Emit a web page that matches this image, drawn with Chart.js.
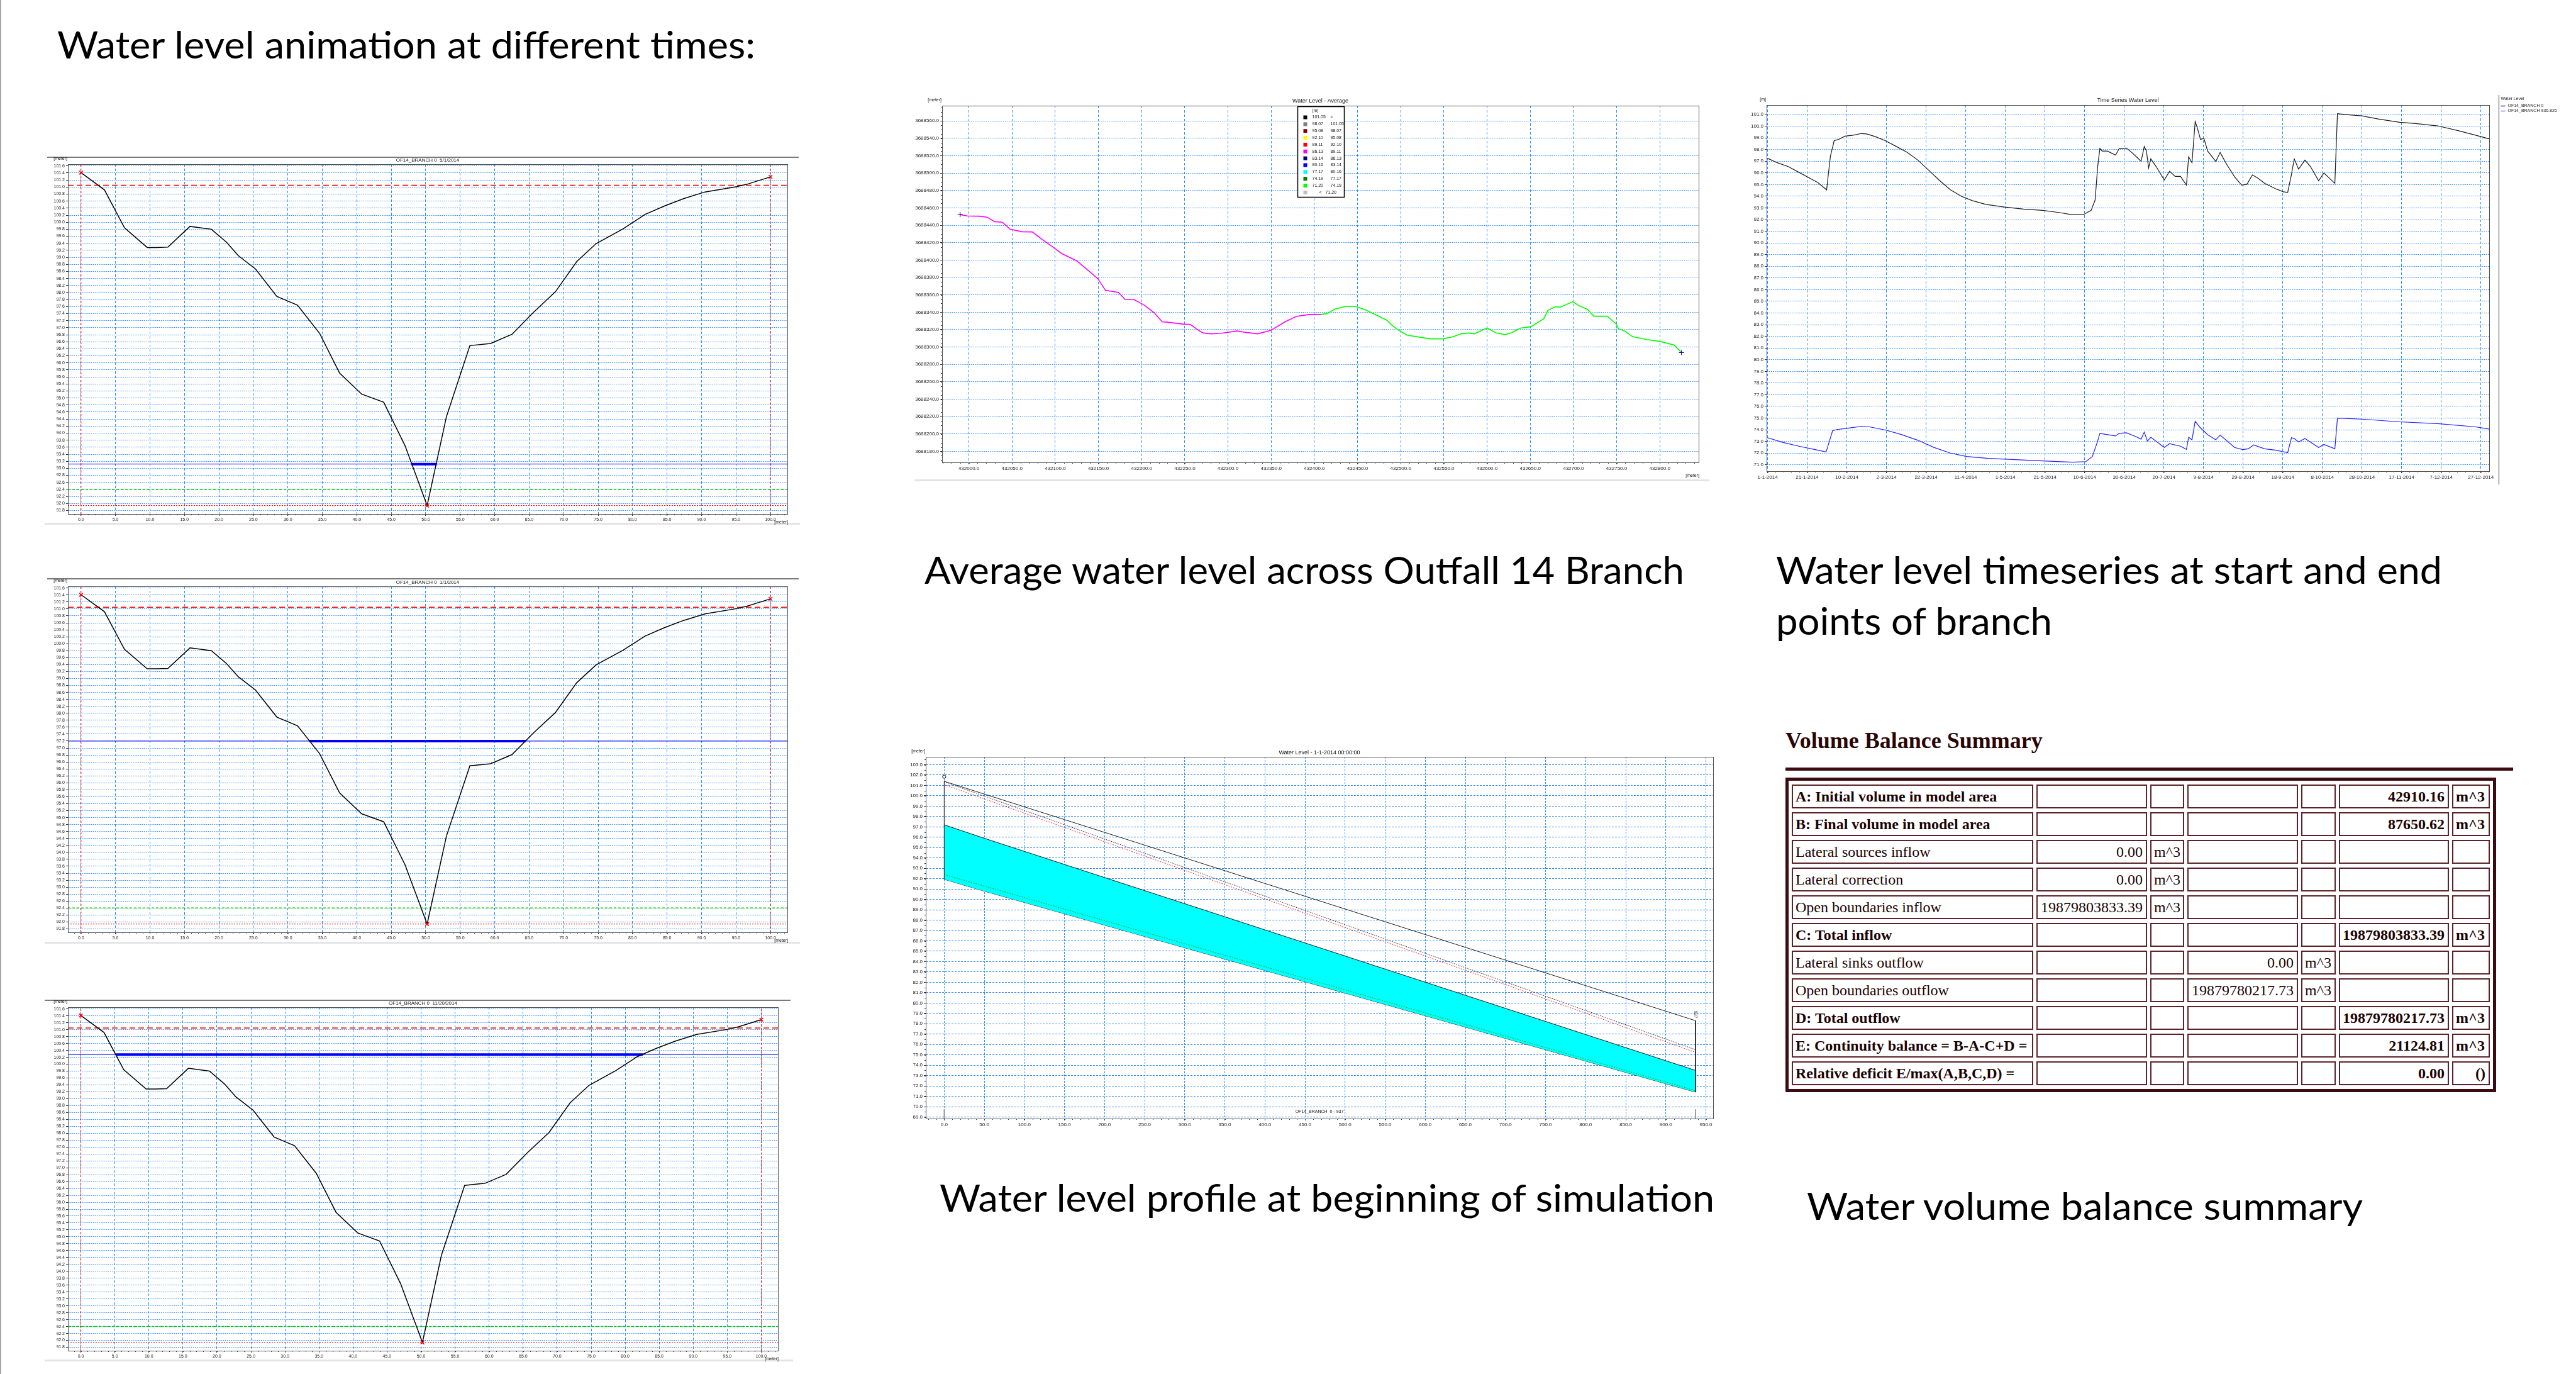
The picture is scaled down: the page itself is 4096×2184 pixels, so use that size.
<!DOCTYPE html>
<html>
<head>
<meta charset="utf-8">
<script src="https://cdn.jsdelivr.net/npm/chart.js@4.4.0/dist/chart.umd.min.js"></script>
<style>
  html, body { margin: 0; padding: 0; background: #fff; }
  #page { position: relative; width: 4096px; height: 2184px; overflow: hidden; background: #fff; }
  canvas { position: absolute; }
  .winline { position: absolute; height: 2px; background: #7a7a7a; }
  .band { position: absolute; height: 3px; background: #e4e4e4; }
  #edge { position: absolute; left: 0; top: 0; width: 2px; height: 2184px; background: #a8a8a8; }
  #vbs-title { position: absolute; left: 2839px; top: 1159px; font: bold 36px 'Liberation Serif', 'Times New Roman', serif; line-height: 1; color: #2b0505; white-space: nowrap; }
  #vbs-rule { position: absolute; left: 2839px; top: 1220px; width: 1157px; height: 5px; background: #3d0b12; }
  #vbs { position: absolute; left: 2839px; top: 1236px; width: 1130px; table-layout: fixed; border: 5px solid #3d0b12; border-collapse: separate; border-spacing: 5px 6px; font-family: 'Liberation Serif', 'Times New Roman', serif; font-size: 24px; color: #1c0303; }
  #vbs td { box-sizing: border-box; height: 38px; border: 2px solid #5b2329; padding: 0 5px 0 4px; white-space: nowrap; overflow: hidden; line-height: 1; }
  #vbs td.num { text-align: right; }
  #vbs tr.b td { font-weight: bold; }
</style>
</head>
<body>
<div id="page">
  <div id="edge"></div>
  <svg width="4096" height="2184" style="position:absolute;left:0;top:0" font-family="Lato, 'Open Sans', sans-serif" font-size="60" fill="#000">
    <text x="91" y="93" textLength="1110" lengthAdjust="spacingAndGlyphs">Water level animation at different times:</text>
    <text x="1470" y="928" textLength="1208" lengthAdjust="spacingAndGlyphs">Average water level across Outfall 14 Branch</text>
    <text x="2824" y="928" textLength="1059" lengthAdjust="spacingAndGlyphs">Water level timeseries at start and end</text>
    <text x="2824" y="1009" textLength="439" lengthAdjust="spacingAndGlyphs">points of branch</text>
    <text x="1494" y="1926" textLength="1232" lengthAdjust="spacingAndGlyphs">Water level profile at beginning of simulation</text>
    <text x="2873" y="1939" textLength="884" lengthAdjust="spacingAndGlyphs">Water volume balance summary</text>
  </svg>
  <div class="winline" style="left:75px;top:249px;width:1195px"></div>
  <div class="winline" style="left:75px;top:919px;width:1195px"></div>
  <div class="winline" style="left:71px;top:1589px;width:1186px"></div>
  <div class="band" style="left:71px;top:831px;width:1201px"></div>
  <div class="band" style="left:71px;top:1497px;width:1201px"></div>
  <div class="band" style="left:71px;top:2161px;width:1190px"></div>
  <div class="band" style="left:1454px;top:762px;width:1264px"></div>
  <div id="vbs-title">Volume Balance Summary</div>
  <div id="vbs-rule"></div>
  <table id="vbs"><tbody></tbody></table>
</div>
<script>
// ---- cross section (animation frames) ----
const xsDist  = [0, 3.4, 6.3, 9.6, 11.0, 12.6, 15.8, 18.9, 21.1, 22.8, 25.3, 28.4, 31.4, 34.6, 37.5, 40.7, 43.9, 47.0, 50.2, 53.0, 56.4, 59.4, 62.5, 65.6, 68.8, 71.9, 74.7, 78.6, 81.8, 84.6, 87.4, 90.5, 95.1, 96.6, 100.0];
const xsLevel = [101.41, 100.92, 99.84, 99.28, 99.28, 99.29, 99.88, 99.80, 99.43, 99.05, 98.67, 97.89, 97.64, 96.84, 95.71, 95.11, 94.88, 93.64, 91.94, 94.47, 96.49, 96.55, 96.81, 97.43, 98.02, 98.88, 99.39, 99.81, 100.22, 100.46, 100.67, 100.86, 101.01, 101.08, 101.29];
const xsMarkX = [0, 50.2, 100];
const xsMarkY = [101.41, 91.94, 101.29];
const chainEnds = [0, 100];
const refRed = 101.05, refGreen = 92.4, refBed = 91.94;
const frameTitles = ['OF14_BRANCH 0  5/1/2014', 'OF14_BRANCH 0  1/1/2014', 'OF14_BRANCH 0  11/20/2014'];
const frameLevels = [93.12, 97.2, 100.28];
const frameWet = [[47.9, 51.6], [33.1, 64.5], [5.2, 82.6]];

// ---- average water level along branch (easting, northing) ----
const avgMagenta = [[431989.9, 3688452.2], [431998.2, 3688450.7], [432011.9, 3688450.4], [432020.9, 3688449.3], [432029.9, 3688444.1], [432038.8, 3688443.5], [432047.8, 3688435.4], [432061.5, 3688432.5], [432073.4, 3688432.3], [432085.4, 3688423.3], [432098.5, 3688414.1], [432107.5, 3688407.5], [432125.4, 3688398.8], [432137.3, 3688388.7], [432149.3, 3688378.6], [432158.2, 3688365.1], [432173.1, 3688362.8], [432180.9, 3688354.7], [432191.0, 3688354.7], [432203.0, 3688348.3], [432214.9, 3688339.1], [432223.9, 3688329.0], [432232.8, 3688328.2], [432247.8, 3688326.4], [432256.7, 3688325.9], [432264.5, 3688320.1], [432271.6, 3688316.1], [432280.6, 3688315.2], [432292.5, 3688315.8], [432310.4, 3688318.4], [432322.4, 3688316.6], [432334.3, 3688315.2], [432349.3, 3688319.0], [432367.2, 3688329.6], [432379.1, 3688335.1], [432394.0, 3688337.4], [432407.8, 3688337.4]];
const avgGreen = [[432407.8, 3688337.4], [432414.9, 3688338.5], [432423.9, 3688343.7], [432435.8, 3688346.6], [432447.8, 3688346.6], [432459.7, 3688342.6], [432471.6, 3688336.8], [432483.6, 3688331.0], [432489.6, 3688325.3], [432497.3, 3688319.5], [432507.5, 3688313.7], [432528.4, 3688310.3], [432534.3, 3688309.4], [432549.3, 3688309.4], [432561.2, 3688312.0], [432570.1, 3688315.2], [432579.1, 3688316.1], [432585.1, 3688315.2], [432600.0, 3688321.8], [432610.7, 3688316.1], [432620.9, 3688314.3], [432628.7, 3688316.6], [432638.8, 3688321.8], [432650.7, 3688323.3], [432665.7, 3688332.5], [432670.4, 3688342.0], [432678.8, 3688346.3], [432684.8, 3688345.8], [432699.1, 3688352.1], [432707.5, 3688346.9], [432716.4, 3688343.4], [432723.6, 3688335.4], [432739.1, 3688335.4], [432749.3, 3688326.7], [432752.2, 3688321.0], [432760.0, 3688318.1], [432768.4, 3688312.0], [432785.1, 3688308.6], [432800.0, 3688306.5], [432816.7, 3688302.2], [432825.1, 3688293.6]];
const avgEnds = [[431989.9, 3688452.2], [432825.1, 3688293.6]];
const avgLegendColors = ['#000000', '#808080', '#800000', '#ffff00', '#ff0000', '#ff00ff', '#000080', '#0000ff', '#00ffff', '#008000', '#00ff00', '#c0c0c0'];
const avgLegendText = [['101.05', '<'], ['98.07', '101.05'], ['95.08', '98.07'], ['92.10', '95.08'], ['89.11', '92.10'], ['86.13', '89.11'], ['83.14', '86.13'], ['80.16', '83.14'], ['77.17', '80.16'], ['74.19', '77.17'], ['71.20', '74.19'], ['<', '71.20']];

// ---- time series (day of 2014, level) ----
const tsStart = [[0, 97.25], [4.9, 96.87], [10.4, 96.54], [15.8, 96.05], [21.3, 95.55], [25.4, 95.17], [29.8, 94.55], [30.3, 95.33], [31.7, 97.42], [33.6, 98.75], [36.3, 98.90], [39.1, 99.15], [43.2, 99.23], [47.3, 99.37], [50.0, 99.34], [54.1, 99.12], [59.5, 98.75], [65.0, 98.26], [70.5, 97.75], [75.9, 97.09], [81.4, 96.21], [86.9, 95.33], [92.3, 94.55], [97.8, 94.00], [103.3, 93.63], [110.1, 93.30], [119.6, 93.07], [129.2, 92.90], [138.8, 92.79], [147.0, 92.61], [153.8, 92.41], [159.2, 92.41], [163.3, 92.79], [165.3, 93.67], [166.6, 96.54], [167.7, 98.09], [168.8, 97.87], [171.5, 97.87], [175.6, 97.53], [177.5, 98.09], [181.1, 98.13], [183.8, 97.75], [186.6, 97.31], [188.5, 96.98], [190.1, 98.26], [191.2, 97.87], [192.3, 96.43], [193.4, 97.20], [196.1, 96.54], [200.2, 95.39], [202.9, 96.14], [205.7, 95.70], [208.4, 95.70], [211.4, 94.95], [212.5, 97.38], [214.2, 96.87], [215.8, 100.40], [216.9, 99.85], [218.5, 98.86], [220.2, 98.97], [222.1, 97.87], [226.2, 96.98], [228.4, 97.75], [231.6, 96.76], [235.7, 95.66], [239.3, 94.95], [242.0, 95.04], [244.7, 95.83], [247.5, 95.55], [250.8, 95.11], [256.2, 94.66], [260.3, 94.38], [262.5, 94.33], [264.4, 95.88], [265.8, 97.20], [268.0, 96.32], [271.2, 97.09], [274.0, 96.54], [278.1, 95.33], [280.8, 95.99], [283.5, 95.55], [286.3, 95.11], [287.6, 101.07], [291.8, 101.00], [299.9, 100.89], [308.1, 100.62], [319.0, 100.34], [327.2, 100.23], [338.2, 100.03], [349.1, 99.59], [357.3, 99.23], [364.1, 98.92]];
const tsEnd = [[0, 73.32], [7.6, 72.92], [15.8, 72.59], [24.0, 72.30], [29.5, 72.10], [30.3, 72.52], [32.8, 73.91], [35.0, 74.02], [40.4, 74.13], [47.3, 74.29], [51.4, 74.25], [59.5, 73.98], [67.7, 73.58], [75.9, 73.10], [84.1, 72.48], [92.3, 72.00], [100.5, 71.71], [111.4, 71.55], [125.1, 71.44], [138.8, 71.33], [153.8, 71.22], [160.6, 71.27], [163.9, 71.71], [166.6, 73.03], [167.7, 73.69], [171.5, 73.58], [175.6, 73.47], [177.5, 73.69], [181.1, 73.74], [186.6, 73.36], [188.5, 73.19], [190.1, 73.80], [191.7, 73.03], [193.4, 73.36], [200.2, 72.48], [202.9, 72.81], [208.4, 72.59], [211.4, 72.32], [212.5, 73.36], [214.2, 73.14], [215.8, 74.73], [218.0, 74.25], [222.1, 73.58], [226.2, 73.14], [228.4, 73.54], [235.7, 72.48], [239.8, 72.30], [242.6, 72.37], [245.3, 72.70], [250.8, 72.37], [256.2, 72.26], [262.5, 72.04], [264.4, 73.32], [265.8, 73.25], [268.0, 72.96], [271.2, 73.25], [278.1, 72.48], [280.8, 72.74], [286.3, 72.37], [287.6, 74.99], [299.9, 74.91], [319.0, 74.68], [338.2, 74.53], [357.3, 74.25], [364.1, 74.07]];
const tsTickLabels = ['1-1-2014', '21-1-2014', '10-2-2014', '2-3-2014', '22-3-2014', '11-4-2014', '1-5-2014', '21-5-2014', '10-6-2014', '30-6-2014', '20-7-2014', '9-8-2014', '29-8-2014', '18-9-2014', '8-10-2014', '28-10-2014', '17-11-2014', '7-12-2014', '27-12-2014'];
const tsNames = ['OF14_BRANCH 0', 'OF14_BRANCH 936.826'];
const tsLegendColors = ['#555555', '#8080ff'];

// ---- long profile at start of simulation ----
const profX = [0, 50, 937];
const profWaterTop = [97.2, 95.9, 73.5];
const profBed = [91.94, 90.8, 71.4];
const profBankX = [0, 0, 937, 937];
const profBankY = [91.94, 101.4, 78.3, 71.4];
const profBlackDot = [101.35, 75.5];
const profRedDot = [101.08, 75.24];
const profGreenDot = [92.4, 71.55];
const profEnds = [0, 937];

// ---- volume balance summary ----
const vbLabels = ['A: Initial volume in model area', 'B: Final volume in model area', 'Lateral sources inflow', 'Lateral correction', 'Open boundaries inflow', 'C: Total inflow', 'Lateral sinks outflow', 'Open boundaries outflow', 'D: Total outflow', 'E: Continuity balance = B-A-C+D =', 'Relative deficit E/max(A,B,C,D) ='];
const vbBold = [1, 1, 0, 0, 0, 1, 0, 0, 1, 1, 1];
const vbColumn = [2, 2, 0, 0, 0, 2, 1, 1, 2, 2, 2];
const vbValues = ['42910.16', '87650.62', '0.00', '0.00', '19879803833.39', '19879803833.39', '0.00', '19879780217.73', '19879780217.73', '21124.81', '0.00'];
const vbUnits = ['m^3', 'm^3', 'm^3', 'm^3', 'm^3', 'm^3', 'm^3', 'm^3', 'm^3', 'm^3', '()'];
const vbWidths = [384, 176, 54, 176, 55, 175, 60];

const FONT = "'Liberation Sans', Arial, sans-serif";
const GRID = '#2b8cff';
const page = document.getElementById('page');
Chart.defaults.font.family = FONT;

const pts = arr => arr.map(p => ({ x: p[0], y: p[1] }));
const ln = (data, color, width, dash, more) => Object.assign({
  data, borderColor: color, backgroundColor: color, borderWidth: width,
  borderDash: dash || [], pointRadius: 0, fill: false, tension: 0
}, more || {});

function addCanvas(left, top, width, height) {
  const c = document.createElement('canvas');
  c.width = width; c.height = height;
  c.style.left = left + 'px'; c.style.top = top + 'px';
  page.appendChild(c);
  return c;
}

function axis(min, max, step, fmt, dash, size, fit) {
  return {
    type: 'linear', min, max,
    afterFit: fit,
    grid: { color: GRID, lineWidth: 1, tickLength: 3, tickColor: '#333' },
    border: { color: '#505050', dash },
    ticks: { stepSize: step, includeBounds: false, autoSkip: false, maxRotation: 0, padding: 2,
      color: '#1a1a1a', font: { family: FONT, size }, callback: fmt }
  };
}

// draws frame, minor ticks, titles, unit labels and extra decorations
const decor = {
  id: 'decor',
  afterDraw(chart, args, o) {
    const { ctx, chartArea: a, scales } = chart;
    const sx = scales.x, sy = scales.y;
    ctx.save();
    ctx.lineWidth = 1;
    ctx.strokeStyle = '#333';
    ctx.beginPath();
    if (o.minorX) {
      for (let i = Math.ceil(sx.min / o.minorX); i <= Math.floor(sx.max / o.minorX); i++) {
        const p = Math.round(sx.getPixelForValue(i * o.minorX)) + 0.5;
        ctx.moveTo(p, a.bottom); ctx.lineTo(p, a.bottom + 2);
      }
    }
    if (o.minorY) {
      for (let i = Math.ceil(sy.min / o.minorY); i <= Math.floor(sy.max / o.minorY); i++) {
        const p = Math.round(sy.getPixelForValue(i * o.minorY)) + 0.5;
        ctx.moveTo(a.left, p); ctx.lineTo(a.left - 2, p);
      }
    }
    ctx.stroke();
    ctx.strokeStyle = '#505050';
    ctx.strokeRect(Math.round(a.left) + 0.5, Math.round(a.top) + 0.5, Math.round(a.width), Math.round(a.height));
    ctx.fillStyle = '#111';
    ctx.textBaseline = 'middle';
    ctx.textAlign = 'center';
    ctx.font = (o.titleSize || 9) + 'px ' + FONT;
    ctx.fillText(o.title, (a.left + a.right) / 2, a.top - (o.titleGap || 7));
    ctx.font = '7px ' + FONT;
    ctx.textAlign = 'right';
    if (o.unitY) ctx.fillText(o.unitY, a.left - 1, a.top - 9);
    if (o.unitX) ctx.fillText(o.unitX, a.right + 1, a.bottom + o.unitXdy);
    (o.notes || []).forEach(n => {
      ctx.save();
      ctx.translate(sx.getPixelForValue(n.x), sy.getPixelForValue(n.y));
      if (n.rot) ctx.rotate(n.rot);
      ctx.textAlign = 'center';
      ctx.fillText(n.text, 0, 0);
      ctx.restore();
    });
    if (o.extra) o.extra(ctx, a);
    ctx.restore();
  }
};

function baseOptions(pad, scales, decorOpts) {
  return {
    responsive: false, animation: false, events: [],
    layout: { padding: pad },
    plugins: { legend: { display: false }, tooltip: { enabled: false }, decor: decorOpts },
    scales
  };
}

// ---- three animation frames ----
const framePlots = [
  { l: 108, t: 261, r: 1252, b: 817 },
  { l: 108, t: 932, r: 1252, b: 1482 },
  { l: 108, t: 1601, r: 1237, b: 2147 }
];
const XS_MIN = -1.9, XS_MAX = 102.45, XS_YMIN = 91.7, XS_YMAX = 101.65;

framePlots.forEach((p, k) => {
  const yw = 33, xh = 12, pt = 16, pr = 20, pb = 10;
  const left = p.l - yw, top = p.t - pt;
  const cv = addCanvas(left, top, p.r + pr - left, p.b + xh + pb - top);
  const lvl = frameLevels[k];
  new Chart(cv, {
    type: 'line',
    data: { datasets: [
      ln(xsMarkX.map((x, i) => ({ x, y: xsMarkY[i] })), '#ff0000', 1.5, null, { showLine: false, pointRadius: 4, pointStyle: 'crossRot' }),
      ln(xsDist.map((x, i) => ({ x, y: xsLevel[i] })), '#000000', 1.5),
      ln(frameWet[k].map(x => ({ x, y: lvl })), '#0000ff', 4),
      ln([{ x: XS_MIN, y: lvl }, { x: XS_MAX, y: lvl }], '#0000ff', 1),
      ln([{ x: XS_MIN, y: refRed }, { x: XS_MAX, y: refRed }], '#ff0000', 1.5, [9, 5]),
      ln([{ x: XS_MIN, y: refGreen }, { x: XS_MAX, y: refGreen }], '#00d000', 1.5, [4, 3]),
      ln([{ x: XS_MIN, y: refBed }, { x: XS_MAX, y: refBed }], '#ff0000', 1, [2, 2]),
      ln([{ x: chainEnds[0], y: XS_YMIN }, { x: chainEnds[0], y: XS_YMAX }], '#ff0000', 1, [3, 3]),
      ln([{ x: chainEnds[1], y: XS_YMIN }, { x: chainEnds[1], y: XS_YMAX }], '#ff0000', 1, [3, 3])
    ] },
    options: baseOptions({ top: pt, right: pr, bottom: pb, left: 0 }, {
      x: axis(XS_MIN, XS_MAX, 5, v => v.toFixed(1), [4, 3], 7, s => { s.height = xh; }),
      y: axis(XS_YMIN, XS_YMAX, 0.2, v => v.toFixed(1), [1.5, 1.5], 7, s => { s.width = yw; })
    }, { title: frameTitles[k], titleSize: 8, titleGap: 6.5, unitY: '[meter]', unitX: '[meter]', unitXdy: 13, minorX: 1 }),
    plugins: [decor]
  });
});

// ---- average water level map ----
(() => {
  const p = { l: 1498, t: 168, r: 2701, b: 735 };
  const yw = 48, xh = 16, pt = 16, pr = 11, pb = 14;
  const left = p.l - yw, top = p.t - pt;
  const cv = addCanvas(left, top, p.r + pr - left, p.b + xh + pb - top);
  new Chart(cv, {
    type: 'line',
    data: { datasets: [
      ln(pts(avgEnds), '#000080', 1, null, { showLine: false, pointRadius: 4, pointStyle: 'cross' }),
      ln(pts(avgMagenta), '#ff00ff', 1.6),
      ln(pts(avgGreen), '#00ff00', 1.6)
    ] },
    options: baseOptions({ top: pt, right: pr, bottom: pb, left: 0 }, {
      x: axis(431969, 432845, 50, v => v.toFixed(1), [4, 3], 8, s => { s.height = xh; }),
      y: axis(3688167.4, 3688577.4, 20, v => v.toFixed(1), [1.5, 1.5], 8, s => { s.width = yw; })
    }, {
      title: 'Water Level - Average', unitY: '[meter]', unitX: '[meter]', unitXdy: 21, minorX: 10, minorY: 5,
      extra(ctx, a) {
        const L = Math.round(a.left + 565) + 0.5, T = Math.round(a.top + 1) + 0.5;
        ctx.fillStyle = '#fff'; ctx.fillRect(L, T, 74, 144);
        ctx.strokeStyle = '#000'; ctx.lineWidth = 1.5; ctx.strokeRect(L, T, 74, 144);
        ctx.textAlign = 'left'; ctx.textBaseline = 'middle'; ctx.font = '7px ' + FONT;
        ctx.fillStyle = '#111'; ctx.fillText('[m]', L + 23, T + 7);
        avgLegendColors.forEach((c, i) => {
          const y = T + 17 + i * 10.85;
          ctx.fillStyle = c; ctx.fillRect(L + 9, y - 3, 6, 6);
          ctx.fillStyle = '#111';
          const [t1, t2] = avgLegendText[i];
          if (t1 === '<') { ctx.fillText(t1, L + 34, y); ctx.fillText(t2, L + 44, y); }
          else { ctx.fillText(t1, L + 23, y); ctx.fillText(t2, L + 52, y); }
        });
      }
    }),
    plugins: [decor]
  });
})();

// ---- time series ----
(() => {
  const p = { l: 2809, t: 167, r: 3958, b: 749 };
  const yw = 30, xh = 16, pt = 16, pb = 6;
  const left = p.l - yw, top = p.t - pt, right = 4096;
  const cv = addCanvas(left, top, right - left, p.b + xh + pb - top);
  new Chart(cv, {
    type: 'line',
    data: { datasets: [
      ln(pts(tsStart), '#1a1a1a', 1.2),
      ln(pts(tsEnd), '#2020ff', 1.2)
    ] },
    options: baseOptions({ top: pt, right: right - p.r, bottom: pb, left: 0 }, {
      x: axis(-0.5, 364.2, 20, v => tsTickLabels[Math.round(v / 20)], [4, 3], 8, s => { s.height = xh; }),
      y: axis(70.45, 101.81, 1, v => v.toFixed(1), [1.5, 1.5], 8, s => { s.width = yw; })
    }, {
      title: 'Time Series Water Level', unitY: '[m]', minorX: 4,
      extra(ctx, a) {
        const x0 = Math.round(a.right + 15) + 0.5;
        ctx.strokeStyle = '#222'; ctx.lineWidth = 1;
        ctx.beginPath(); ctx.moveTo(x0, a.top - 18); ctx.lineTo(x0, a.bottom + 21); ctx.stroke();
        ctx.font = '7px ' + FONT; ctx.textAlign = 'left'; ctx.textBaseline = 'middle'; ctx.fillStyle = '#222';
        ctx.fillText('Water Level', x0 + 3, a.top - 10);
        tsNames.forEach((n, i) => {
          const y = Math.round(a.top + 0.5 + i * 8.5) + 0.5;
          ctx.strokeStyle = tsLegendColors[i]; ctx.lineWidth = 1.5;
          ctx.beginPath(); ctx.moveTo(x0 + 3, y); ctx.lineTo(x0 + 10, y); ctx.stroke();
          ctx.fillText(n, x0 + 14, y);
        });
      }
    }),
    plugins: [decor]
  });
})();

// ---- long profile ----
(() => {
  const p = { l: 1472, t: 1203, r: 2724, b: 1778 };
  const yw = 28, xh = 16, pt = 16, pr = 10, pb = 6;
  const left = p.l - yw, top = p.t - pt;
  const cv = addCanvas(left, top, p.r + pr - left, p.b + xh + pb - top);
  const ends = v => profEnds.map((x, i) => ({ x, y: v[i] }));
  new Chart(cv, {
    type: 'line',
    data: { datasets: [
      ln([{ x: 0, y: 101.84 }], '#000', 1, null, { showLine: false, pointRadius: 2.6, pointStyle: 'circle', pointBackgroundColor: '#fff' }),
      ln(profBankX.map((x, i) => ({ x, y: profBankY[i] })), '#1a1a1a', 1),
      ln(ends(profBlackDot), '#222', 1, [1.5, 1.5]),
      ln(ends(profRedDot), '#ff2020', 1, [2, 2]),
      ln(ends(profGreenDot), '#00b000', 1, [2, 2]),
      ln([{ x: profEnds[0], y: 68.85 }, { x: profEnds[0], y: 69.75 }], '#808080', 1.5),
      ln([{ x: profEnds[1], y: 68.85 }, { x: profEnds[1], y: 69.75 }], '#808080', 1.5),
      ln(profX.map((x, i) => ({ x, y: profWaterTop[i] })), '#1a1a1a', 1, null, { fill: '+1', backgroundColor: '#00ffff' }),
      ln(profX.map((x, i) => ({ x, y: profBed[i] })), '#1a1a1a', 1)
    ] },
    options: baseOptions({ top: pt, right: pr, bottom: pb, left: 0 }, {
      x: axis(-23, 959, 50, v => v.toFixed(1), [3, 2], 8, s => { s.height = xh; }),
      y: axis(68.85, 103.76, 1, v => v.toFixed(1), [3, 2], 8, s => { s.width = yw; })
    }, {
      title: 'Water Level - 1-1-2014 00:00:00', titleGap: 6, unitY: '[meter]', minorX: 10, minorY: 0.5,
      notes: [
        { text: 'OF14_BRANCH  0 - 937', x: 468, y: 69.5 },
        { text: '937', x: 937, y: 78.9, rot: Math.PI / 2 }
      ]
    }),
    plugins: [decor]
  });
})();

// ---- volume balance table ----
(() => {
  const body = document.querySelector('#vbs tbody');
  vbLabels.forEach((lab, r) => {
    const tr = document.createElement('tr');
    if (vbBold[r]) tr.className = 'b';
    for (let c = 0; c < 7; c++) {
      const td = document.createElement('td');
      td.style.width = vbWidths[c] + 'px';
      if (c === 0) td.textContent = lab;
      else {
        const pair = Math.floor((c - 1) / 2), isUnit = (c - 1) % 2 === 1;
        if (pair === vbColumn[r]) {
          td.textContent = isUnit ? vbUnits[r] : vbValues[r];
          if (!isUnit || vbUnits[r] === '()') td.className = 'num';
        }
      }
      tr.appendChild(td);
    }
    body.appendChild(tr);
  });
})();
</script>
</body>
</html>
